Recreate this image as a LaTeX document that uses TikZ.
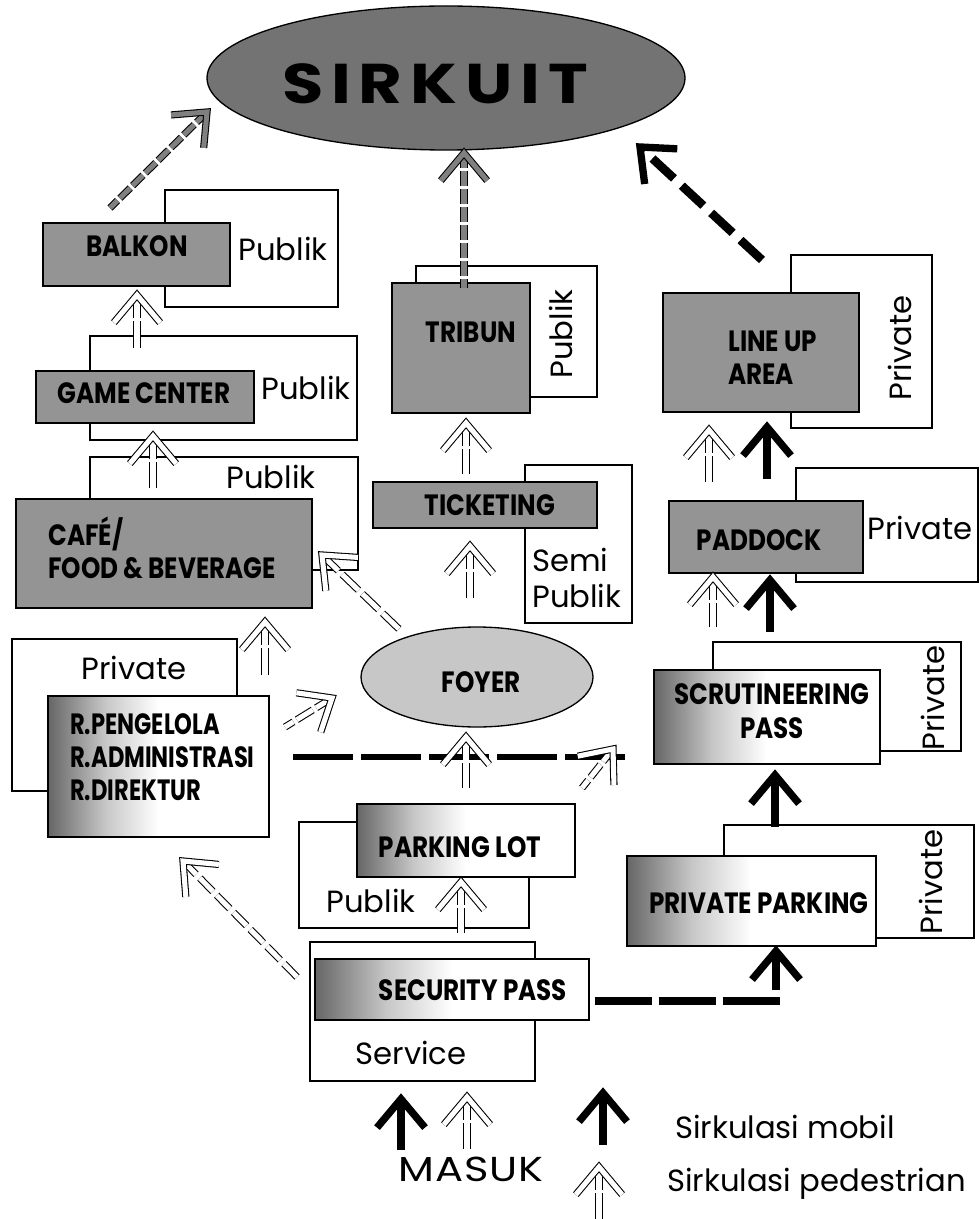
\documentclass[tikz,border=0pt]{standalone}
\usepackage{fontspec}
\setmainfont{Poppins}
\newfontfamily\labfont{Poppins}[FakeStretch=0.84]
\newfontfamily\kanfont{Poppins}[FakeStretch=0.77]
\newfontfamily\sirkfont{Poppins}[FakeStretch=1.2,LetterSpace=14]
\newfontfamily\masukfont{Poppins}[FakeStretch=1.2,LetterSpace=3]
\usetikzlibrary{calc,fit,shapes.geometric}
\pgfdeclarehorizontalshading{fadebox}{100bp}{color(0bp)=(black!60); color(25bp)=(black!60); color(38bp)=(black!22); color(50bp)=(white); color(100bp)=(white)}
\tikzset{
  backbox/.style={draw, line width=0.9pt, fill=white, inner sep=0pt},
  graybox/.style={draw, line width=1.2pt, fill=black!42, inner sep=0pt},
  fadeb/.style={draw, line width=1.2pt, shading=fadebox, inner sep=0pt},
  lbl/.style={font=\labfont\bfseries\fontsize{22}{25}\selectfont, inner sep=0pt},
  zone/.style={font=\fontsize{23}{27}\selectfont, inner sep=0pt},
  legend/.style={font=\fontsize{23}{27}\selectfont, inner sep=0pt, anchor=west},
  car/.style={line width=6.5pt},
  carhd/.style={line width=5.5pt, line join=miter, miter limit=10},
  ped/.style={draw=black, line width=0.8pt, double=white, double distance=3.8pt},
  pedbreak/.style={dash pattern=on 17pt off 2.5pt on 200pt off 0pt},
}
\newcommand\carArrow[3][]{%
  \draw[car,#1] (#2) -- (#3);
  \draw[carhd] ($(#3)!28pt!40:(#2)$) -- (#3) -- ($(#3)!28pt!-40:(#2)$);}
\newcommand\pedArrow[4]{% stem opts, head opts, tail, tip
  \draw[ped,#1] (#4) -- (#3);
  \draw[ped,line join=miter,#2] ($(#4)!27pt!40:(#3)$) -- (#4) -- ($(#4)!27pt!-40:(#3)$);}
\begin{document}
\begin{tikzpicture}[x=0.75pt,y=-0.75pt]
\useasboundingbox[fill=white] (0,0) rectangle (979,1219);

% ---------- SIRKUIT ----------
\node[ellipse, draw, line width=1pt, fill=black!55, inner sep=0pt,
      minimum width=358.5pt, minimum height=108pt] (sirkuit) at (446,78) {};
\node[font=\sirkfont\bfseries\fontsize{42}{46}\selectfont, inner sep=0pt] (sirkuitT) at (435,84) {SIRKUIT};

% ---------- left column ----------
\node[backbox, fit={(165,190)(338,307)}] (balkonZ) {};
\node[graybox, fit={(43,223)(230,286)}] (balkon) {};
\node[lbl] (balkonT) at (137,246) {BALKON};
\node[zone] (balkonP) at (283,249) {Publik};

\node[backbox, fit={(90,336)(357,440)}] (gameZ) {};
\node[graybox, fit={(36,371)(254,423)}] (game) {};
\node[lbl] (gameT) at (144,393) {GAME CENTER};
\node[zone] (gameP) at (306,388) {Publik};

\node[backbox, fit={(90,457)(358,570)}] (cafeZ) {};
\node[graybox, fit={(16,499)(312,608)}] (cafe) {};
\node[lbl, anchor=west, align=left] (cafeT) at (48,548) {CAFÉ/\\FOOD \& BEVERAGE};
\node[zone] (cafeP) at (271,477) {Publik};

\node[backbox, fit={(12,639)(237,791)}] (kantorZ) {};
\node[fadeb, fit={(48,696)(269,837)}] (kantor) {};
\node[zone] (kantorP) at (134,668) {Private};
\node[lbl, anchor=west, align=left, font=\kanfont\bfseries\fontsize{22}{25}\selectfont] (kantorT) at (70,757) {R.PENGELOLA\\R.ADMINISTRASI\\R.DIREKTUR};

% ---------- middle column ----------
\node[backbox, fit={(416,266)(597,397)}] (tribunZ) {};
\node[graybox, fit={(392,283)(530,413)}] (tribun) {};
\node[lbl] (tribunT) at (471,332) {TRIBUN};
\node[zone, rotate=90] (tribunP) at (561,334) {Publik};

\node[backbox, fit={(525,465)(632,623)}] (ticketZ) {};
\node[graybox, fit={(373,482)(597,528)}] (ticket) {};
\node[lbl] (ticketT) at (490,505) {TICKETING};
\node[zone, align=left, anchor=west] (ticketP) at (532,578) {Semi\\Publik};

\node[ellipse, draw, line width=1pt, fill=black!22, inner sep=0pt,
      minimum width=174pt, minimum height=75pt] (foyer) at (477,677) {};
\node[lbl] (foyerT) at (481,682) {FOYER};

\node[backbox, fit={(299,822)(529,928)}] (parkZ) {};
\node[fadeb, fit={(357,804)(575,877)}] (park) {};
\node[lbl] (parkT) at (460,847) {PARKING LOT};
\node[zone] (parkP) at (371,901) {Publik};

\node[backbox, fit={(310,942)(535,1081)}] (secZ) {};
\node[fadeb, fit={(315,959)(589,1020)}] (sec) {};
\node[lbl] (secT) at (473,990) {SECURITY PASS};
\node[zone] (secP) at (411,1053) {Service};

% ---------- right column ----------
\node[backbox, fit={(791,255)(932,428)}] (lineZ) {};
\node[graybox, fit={(663,293)(859,412)}] (lineup) {};
\node[lbl, anchor=west, align=left] (lineT) at (728,358) {LINE UP\\AREA};
\node[zone, rotate=90] (lineP) at (900,348) {Private};

\node[backbox, fit={(796,468)(978,582)}] (padZ) {};
\node[graybox, fit={(669,501)(863,573)}] (paddock) {};
\node[lbl] (padT) at (759,540) {PADDOCK};
\node[zone] (padP) at (920,528) {Private};

\node[backbox, fit={(713,642)(961,751)}] (scrZ) {};
\node[fadeb, fit={(654,670)(880,764)}] (scrut) {};
\node[lbl, align=center] (scrT) at (772,711) {SCRUTINEERING\\PASS};
\node[zone, rotate=90] (scrP) at (933,698) {Private};

\node[backbox, fit={(724,825)(974,938)}] (ppZ) {};
\node[fadeb, fit={(627,856)(876,946)}] (ppark) {};
\node[lbl] (ppT) at (759,903) {PRIVATE PARKING};
\node[zone, rotate=90] (ppP) at (931,882) {Private};

% ---------- connector end points ----------
\coordinate (a1t) at (110,208);  \coordinate (a1h) at (207,112);
\coordinate (a2t) at (464,288);  \coordinate (a2h) at (464,153);
\coordinate (a3t) at (762,260);  \coordinate (a3h) at (640,147);
\coordinate (a4t) at (137,348);  \coordinate (a4h) at (137,295);
\coordinate (a5t) at (153,488);  \coordinate (a5h) at (153,436);
\coordinate (a6t) at (400,630);  \coordinate (a6h) at (322,555);
\coordinate (a7t) at (265,675);  \coordinate (a7h) at (265,622);
\coordinate (a8t) at (285,727);  \coordinate (a8h) at (332,698);
\coordinate (a9t) at (466,474);  \coordinate (a9h) at (466,423);
\coordinate (a10t) at (470,598); \coordinate (a10h) at (470,546);
\coordinate (a11t) at (466,788); \coordinate (a11h) at (466,737);
\coordinate (hl1) at (293,757);  \coordinate (hl2) at (626,757);
\coordinate (a13t) at (582,788); \coordinate (a13h) at (613,749);
\coordinate (a14t) at (709,482); \coordinate (a14h) at (709,430);
\coordinate (a15t) at (767,479); \coordinate (a15h) at (767,427);
\coordinate (a16t) at (713,627); \coordinate (a16h) at (713,577);
\coordinate (a17t) at (770,632); \coordinate (a17h) at (770,580);
\coordinate (a18t) at (775,827); \coordinate (a18h) at (775,775);
\coordinate (a19t) at (595,1001); \coordinate (a19k) at (776,1001); \coordinate (a19h) at (776,951);
\coordinate (a20t) at (461,933); \coordinate (a20h) at (461,882);
\coordinate (a21t) at (300,980); \coordinate (a21h) at (183,861);
\coordinate (m1t) at (401,1150); \coordinate (m1h) at (401,1099);
\coordinate (m2t) at (467,1149); \coordinate (m2h) at (467,1097);
\coordinate (l1t) at (603,1145); \coordinate (l1h) at (603,1093);
\coordinate (l2t) at (599,1219); \coordinate (l2h) at (599,1167);

% ---------- connectors ----------
\pedArrow{double=black!50, dash pattern=on 11pt off 2.5pt}{double=black!50}{a1t}{a1h}
\pedArrow{double=black!50, dash pattern=on 11pt off 2.5pt}{double=black!50}{a2t}{a2h}
\carArrow[dash pattern=on 22pt off 8pt]{a3t}{a3h}
\pedArrow{pedbreak}{}{a4t}{a4h}
\pedArrow{pedbreak}{}{a5t}{a5h}
\pedArrow{dash pattern=on 17pt off 4pt}{}{a6t}{a6h}
\pedArrow{pedbreak}{}{a7t}{a7h}
\pedArrow{dash pattern=on 14pt off 3pt}{}{a8t}{a8h}
\pedArrow{pedbreak}{}{a9t}{a9h}
\pedArrow{pedbreak}{}{a10t}{a10h}
\draw[line width=5pt, dash pattern=on 45pt off 6pt] (hl1) -- (hl2);
\pedArrow{pedbreak}{}{a11t}{a11h}
\pedArrow{dash pattern=on 12pt off 3pt}{}{a13t}{a13h}
\pedArrow{pedbreak}{}{a14t}{a14h}
\carArrow{a15t}{a15h}
\pedArrow{pedbreak}{}{a16t}{a16h}
\carArrow{a17t}{a17h}
\carArrow{a18t}{a18h}
\draw[car, dash pattern=on 43pt off 5pt] (a19t) -- (a19k) -- (a19h);
\draw[carhd] ($(a19h)!28pt!40:(a19k)$) -- (a19h) -- ($(a19h)!28pt!-40:(a19k)$);
\pedArrow{pedbreak}{}{a20t}{a20h}
\pedArrow{dash pattern=on 14pt off 4pt}{}{a21t}{a21h}

% ---------- entrance and legend ----------
\carArrow{m1t}{m1h}
\pedArrow{pedbreak}{}{m2t}{m2h}
\node[font=\masukfont\fontsize{26}{28}\selectfont, inner sep=0pt] (masuk) at (471,1169) {MASUK};
\carArrow{l1t}{l1h}
\pedArrow{pedbreak}{}{l2t}{l2h}
\node[legend] (legCar) at (675,1127) {Sirkulasi mobil};
\node[legend] (legPed) at (667,1184) {Sirkulasi pedestrian};
\end{tikzpicture}
\end{document}
